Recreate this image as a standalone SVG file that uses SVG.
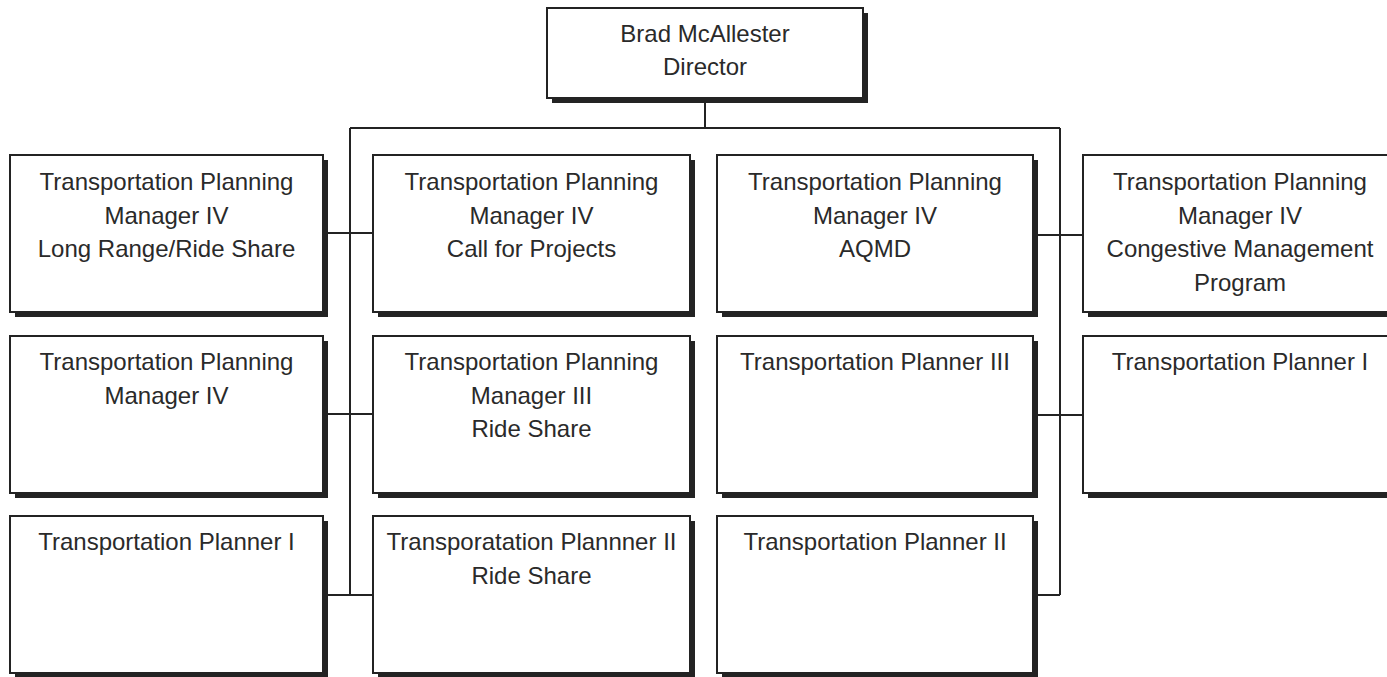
<svg xmlns="http://www.w3.org/2000/svg" width="1387" height="677" viewBox="0 0 1387 677">
<style>
.sh{fill:#232323;stroke:none}
.bx{fill:#fff;stroke:#232323;stroke-width:2}
.t{font-family:"Liberation Sans",Arial,sans-serif;font-size:24px;fill:#2a2a2a;text-anchor:middle}
.c{stroke:#232323;stroke-width:2;fill:none}
</style>
<rect width="1387" height="677" fill="#fff"/>
<g id="connectors">
<path class="c" d="M705,98 V128 M350,128 H1060 M350,128 V595 M1060,128 V595"/>
<path class="c" d="M323,233 H373 M323,414 H373 M323,595 H373"/>
<path class="c" d="M1033,235 H1083 M1033,415 H1083 M1033,595 H1060"/>
</g>
<g id="director">
<rect class="sh" x="552" y="13" width="316" height="90"/>
<rect class="bx" x="547" y="8" width="316" height="90"/>
<text class="t" x="705" y="42">Brad McAllester</text>
<text class="t" x="705" y="75">Director</text>
</g>
<g id="n-c1r1">
<rect class="sh" x="15" y="160" width="313" height="157"/>
<rect class="bx" x="10" y="155" width="313" height="157"/>
<text class="t" x="166.5" y="190">Transportation Planning</text>
<text class="t" x="166.5" y="223.5">Manager IV</text>
<text class="t" x="166.5" y="257">Long Range/Ride Share</text>
</g>
<g id="n-c1r2">
<rect class="sh" x="15" y="341" width="313" height="157"/>
<rect class="bx" x="10" y="336" width="313" height="157"/>
<text class="t" x="166.5" y="370">Transportation Planning</text>
<text class="t" x="166.5" y="403.5">Manager IV</text>
</g>
<g id="n-c1r3">
<rect class="sh" x="15" y="521" width="313" height="157"/>
<rect class="bx" x="10" y="516" width="313" height="157"/>
<text class="t" x="166.5" y="550">Transportation Planner I</text>
</g>
<g id="n-c2r1">
<rect class="sh" x="378" y="160" width="317" height="157"/>
<rect class="bx" x="373" y="155" width="317" height="157"/>
<text class="t" x="531.5" y="190">Transportation Planning</text>
<text class="t" x="531.5" y="223.5">Manager IV</text>
<text class="t" x="531.5" y="257">Call for Projects</text>
</g>
<g id="n-c2r2">
<rect class="sh" x="378" y="341" width="317" height="157"/>
<rect class="bx" x="373" y="336" width="317" height="157"/>
<text class="t" x="531.5" y="370">Transportation Planning</text>
<text class="t" x="531.5" y="403.5">Manager III</text>
<text class="t" x="531.5" y="437">Ride Share</text>
</g>
<g id="n-c2r3">
<rect class="sh" x="378" y="521" width="317" height="157"/>
<rect class="bx" x="373" y="516" width="317" height="157"/>
<text class="t" x="531.5" y="550">Transporatation Plannner II</text>
<text class="t" x="531.5" y="584">Ride Share</text>
</g>
<g id="n-c3r1">
<rect class="sh" x="722" y="160" width="316" height="157"/>
<rect class="bx" x="717" y="155" width="316" height="157"/>
<text class="t" x="875" y="190">Transportation Planning</text>
<text class="t" x="875" y="223.5">Manager IV</text>
<text class="t" x="875" y="257">AQMD</text>
</g>
<g id="n-c3r2">
<rect class="sh" x="722" y="341" width="316" height="157"/>
<rect class="bx" x="717" y="336" width="316" height="157"/>
<text class="t" x="875" y="370">Transportation Planner III</text>
</g>
<g id="n-c3r3">
<rect class="sh" x="722" y="521" width="316" height="157"/>
<rect class="bx" x="717" y="516" width="316" height="157"/>
<text class="t" x="875" y="550">Transportation Planner II</text>
</g>
<g id="n-c4r1">
<rect class="sh" x="1088" y="160" width="316" height="157"/>
<rect class="bx" x="1083" y="155" width="316" height="157"/>
<text class="t" x="1240" y="190">Transportation Planning</text>
<text class="t" x="1240" y="223.5">Manager IV</text>
<text class="t" x="1240" y="257">Congestive Management</text>
<text class="t" x="1240" y="290.5">Program</text>
</g>
<g id="n-c4r2">
<rect class="sh" x="1088" y="341" width="316" height="157"/>
<rect class="bx" x="1083" y="336" width="316" height="157"/>
<text class="t" x="1240" y="370">Transportation Planner I</text>
</g>
</svg>
